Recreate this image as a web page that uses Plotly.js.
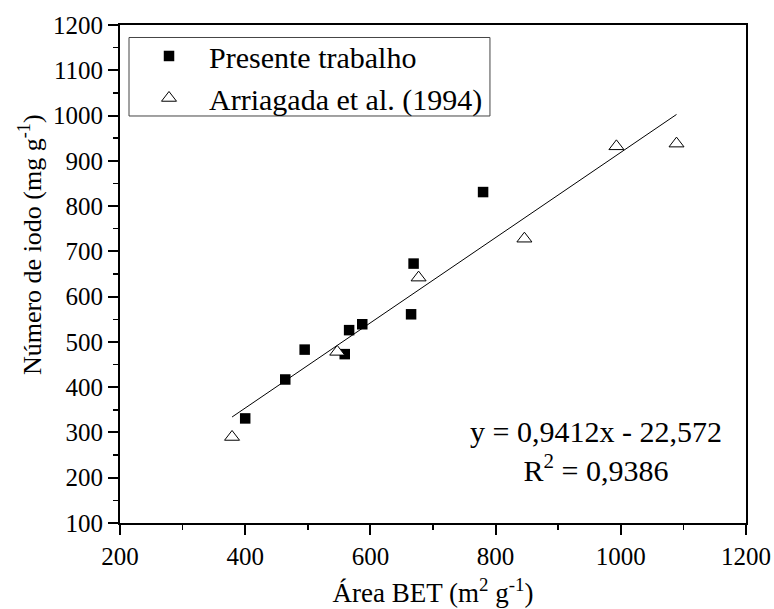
<!DOCTYPE html>
<html>
<head>
<meta charset="utf-8">
<script src="https://cdn.plot.ly/plotly-3.0.1.min.js"></script>
<style>html,body{margin:0;padding:0;background:#fff;}#chart{width:774px;height:609px;}</style>
</head>
<body>
<div id="chart"></div>
<script>
// Presente trabalho (filled squares)
const presenteBET  = [400, 464, 495, 559, 566, 587, 665, 669, 780];
const presenteIodo = [331, 417, 483, 473, 526, 539, 561, 673, 831];
// Arriagada et al. (1994) (open triangles)
const arriagadaBET  = [379, 547, 677, 846, 993, 1089];
const arriagadaIodo = [290, 478, 642, 728, 932, 938];
// Linear fit
const fitSlope = 0.9412;
const fitIntercept = -22.572;
const fitR2 = 0.9386;
// Axis ticks
const xTicks = [200, 400, 600, 800, 1000, 1200];
const yTicks = [100, 200, 300, 400, 500, 600, 700, 800, 900, 1000, 1100, 1200];

const allX = presenteBET.concat(arriagadaBET);
const fitX = [Math.min(...allX), Math.max(...allX)];
const fitY = fitX.map(x => fitSlope * x + fitIntercept);

const fmt = (v) => String(v).replace('.', ',');
const eqText = 'y = ' + fmt(fitSlope) + 'x - ' + fmt(Math.abs(fitIntercept)) +
               '<br>R<sup>2</sup> = ' + fmt(fitR2);

const FONT = '"Liberation Serif", "Times New Roman", Times, serif';

const traces = [
  {
    x: fitX, y: fitY, mode: 'lines', type: 'scatter', showlegend: false,
    line: {color: '#000', width: 1}, hoverinfo: 'skip'
  },
  {
    x: presenteBET, y: presenteIodo, mode: 'markers', type: 'scatter',
    name: 'Presente trabalho',
    marker: {symbol: 'square', size: 10.5, color: '#000', line: {width: 0}}
  },
  {
    x: arriagadaBET, y: arriagadaIodo, mode: 'markers', type: 'scatter',
    name: 'Arriagada et al. (1994)',
    marker: {symbol: 'triangle-up', size: 13, color: '#fff', line: {color: '#000', width: 1}}
  }
];

const axisCommon = {
  showgrid: false, zeroline: false, showline: true, mirror: true,
  linecolor: '#000', linewidth: 2, ticks: 'outside', ticklen: 10, tickwidth: 2,
  tickcolor: '#000', tickfont: {family: FONT, size: 25, color: '#000'}
};

const layout = {
  width: 774, height: 609,
  margin: {l: 120, r: 28, t: 25, b: 86, pad: 0},
  paper_bgcolor: '#fff', plot_bgcolor: '#fff',
  font: {family: FONT, color: '#000'},
  xaxis: Object.assign({}, axisCommon, {
    range: [200, 1200], tickvals: xTicks, ticktext: xTicks.map(String),
    minor: {dtick: 100, tick0: 200, ticks: 'outside', ticklen: 5, tickwidth: 1.5, tickcolor: '#000', showgrid: false},
    title: {text: 'Área BET (m<sup>2</sup> g<sup>-1</sup>)', font: {family: FONT, size: 27, color: '#000'}, standoff: 14}
  }),
  yaxis: Object.assign({}, axisCommon, {
    range: [100, 1200], tickvals: yTicks, ticktext: yTicks.map(String),
    minor: {dtick: 50, tick0: 100, ticks: 'outside', ticklen: 5, tickwidth: 1.5, tickcolor: '#000', showgrid: false},
    title: {text: ''}
  }),
  legend: {
    x: 0.0144, y: 0.99, xanchor: 'left', yanchor: 'top',
    bgcolor: 'rgba(0,0,0,0)', borderwidth: 0,
    itemwidth: 70,
    font: {family: FONT, size: 30, color: '#000'},
    tracegroupgap: 0
  },
  shapes: [{
    type: 'rect', xref: 'paper', yref: 'paper', layer: 'above',
    x0: 0.0144, x1: 0.591, y0: 0.8173, y1: 0.9749,
    line: {color: '#444', width: 1}, fillcolor: 'rgba(0,0,0,0)'
  }],
  annotations: [
    {
      x: 960, y: 258, xref: 'x', yref: 'y', xanchor: 'center', yanchor: 'middle',
      text: eqText, showarrow: false, align: 'center',
      font: {family: FONT, size: 30, color: '#000'}
    },
    {
      x: -0.1438, y: 0.560, xref: 'paper', yref: 'paper', xanchor: 'center', yanchor: 'middle',
      text: 'Número de iodo (mg g<sup>-1</sup>)', textangle: -90, showarrow: false,
      font: {family: FONT, size: 26, color: '#000'}
    }
  ]
};

Plotly.newPlot('chart', traces, layout, {displayModeBar: false, staticPlot: true});
</script>
</body>
</html>
